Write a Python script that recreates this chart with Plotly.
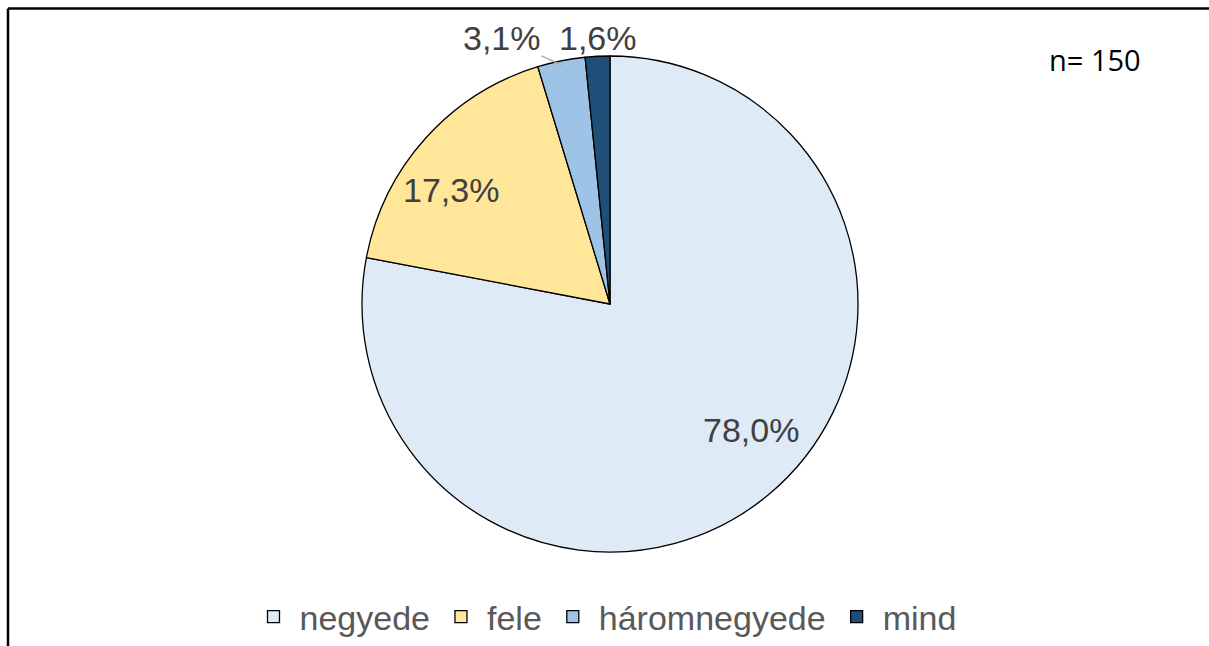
import math
import plotly.graph_objects as go

# Share of respondents by answer category (n = 150)
categories = ["negyede", "fele", "háromnegyede", "mind"]
shares = [78.0, 17.3, 3.1, 1.6]
colors = ["#DEEBF7", "#FFE699", "#9DC3E6", "#1F4E79"]
sample_note = "n= 150"

W, H = 1209, 646
CX, CY, R = 610, 304, 248  # pie centre and radius in pixels
LABEL_FONT = dict(family="Liberation Sans, Arial, sans-serif", size=34, color="#404040")

# where each percentage label sits (pixels): inside for big slices, outside for thin ones
label_spots = {
    "negyede": (751, 430),
    "fele": (451, 190),
    "háromnegyede": (502, 38),
    "mind": (598, 38),
}


def fmt(v):
    return f"{v:.1f}".replace(".", ",") + "%"


fig = go.Figure()
fig.add_trace(go.Pie(
    labels=categories,
    values=shares,
    textinfo="none",
    marker=dict(colors=colors, line=dict(color="#000000", width=1.3)),
    sort=False,
    direction="clockwise",
    rotation=0,
    hoverinfo="label+percent",
    domain=dict(x=[(CX - R) / W, (CX + R) / W],
                y=[(H - CY - R) / H, (H - CY + R) / H]),
))

total = sum(shares)
cum = 0.0
annots = []
for name, v in zip(categories, shares):
    mid = (cum + v / 2) / total * 360.0
    cum += v
    tx, ty = label_spots[name]
    if name == "háromnegyede":
        # leader line from the label to the rim of its slice
        th = math.radians(mid)
        ex = CX + R * math.sin(th)
        ey = CY - R * math.cos(th) + 4
        annots.append(dict(
            x=ex / W, y=1 - ey / H, xref="paper", yref="paper",
            text=fmt(v), showarrow=True, arrowhead=0, arrowwidth=1.2,
            arrowcolor="#A6A6A6", ax=tx - ex, ay=ty - ey, borderpad=0,
            xanchor="center", yanchor="middle", font=LABEL_FONT,
        ))
    else:
        annots.append(dict(
            x=tx / W, y=1 - ty / H, xref="paper", yref="paper",
            text=fmt(v), showarrow=False, xanchor="center", yanchor="middle",
            font=LABEL_FONT,
        ))

annots.append(dict(
    x=1095 / W, y=1 - 60 / H, xref="paper", yref="paper", text=sample_note,
    showarrow=False, xanchor="center", yanchor="middle",
    font=dict(family="Open Sans, Liberation Sans, sans-serif", size=29, color="#000000"),
))

fig.update_layout(
    width=W, height=H,
    margin=dict(l=0, r=0, t=0, b=0),
    paper_bgcolor="white",
    plot_bgcolor="white",
    showlegend=True,
    legend=dict(
        orientation="h", x=0.5, xanchor="center", y=(H - 617) / H, yanchor="middle",
        font=dict(family="Liberation Sans, Arial, sans-serif", size=34, color="#595959"),
        traceorder="normal", itemwidth=42,
    ),
    annotations=annots,
    shapes=[
        dict(type="line", xref="paper", yref="paper", x0=8 / W, x1=1, y0=1 - 8.5 / H, y1=1 - 8.5 / H,
             line=dict(color="#000000", width=2.5)),
        dict(type="line", xref="paper", yref="paper", x0=8 / W, x1=8 / W, y0=1 - 8.5 / H, y1=0,
             line=dict(color="#000000", width=2.5)),
    ],
)

fig.write_html("out.html")
